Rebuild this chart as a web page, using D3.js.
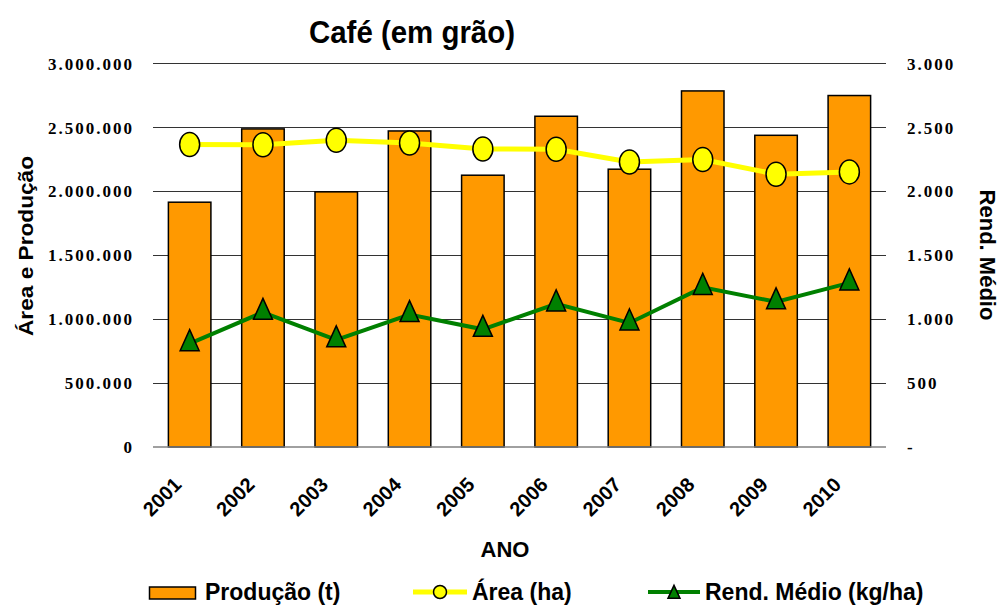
<!DOCTYPE html>
<html>
<head>
<meta charset="utf-8">
<script src="https://cdn.jsdelivr.net/npm/d3@7"></script>
<style>
  body { margin: 0; background: #fff; }
  .tick-lbl { font-family: "Liberation Serif", "Times New Roman", serif; font-weight: bold; font-size: 17px; letter-spacing: 2px; }
  .sans { font-family: "Liberation Sans", Arial, sans-serif; font-weight: bold; }
</style>
</head>
<body>
<div id="chart"></div>
<script>
// data
var years = ["2001", "2002", "2003", "2004", "2005", "2006", "2007", "2008", "2009", "2010"];
var producao = [1914000, 2487000, 1995000, 2471000, 2125000, 2586000, 2172000, 2784000, 2437000, 2748000];
var area = [2365000, 2363000, 2398000, 2377000, 2330000, 2328000, 2229000, 2247000, 2133000, 2151000];
var rendimento = [808, 1053, 838, 1035, 920, 1119, 970, 1248, 1135, 1283];
var leftTicks = [0, 500000, 1000000, 1500000, 2000000, 2500000, 3000000];
var rightTicks = [0, 500, 1000, 1500, 2000, 2500, 3000];

var svgWidth = 1002;
var svgHeight = 605;

var plot = { left: 153, right: 886, top: 63.3, bottom: 447 };

var svg = d3.select("#chart")
    .append("svg")
    .attr("width", svgWidth)
    .attr("height", svgHeight);

var ptBR = d3.formatLocale({ decimal: ",", thousands: ".", grouping: [3], currency: ["R$", ""] });
var fmt = ptBR.format(",.0f");

// scales
var x = d3.scaleBand()
    .domain(years)
    .range([plot.left, plot.right])
    .paddingInner(0.42)
    .paddingOuter(0.21);

var yLeft = d3.scaleLinear()
    .domain([0, 3000000])
    .range([plot.bottom, plot.top]);

var yRight = d3.scaleLinear()
    .domain([0, 3000])
    .range([plot.bottom, plot.top]);

// gridlines
svg.append("g")
    .selectAll("line")
    .data(leftTicks.filter(d => d > 0))
    .enter()
    .append("line")
    .attr("x1", plot.left)
    .attr("x2", plot.right)
    .attr("y1", d => Math.round(yLeft(d)) + 0.5)
    .attr("y2", d => Math.round(yLeft(d)) + 0.5)
    .attr("stroke", "#333")
    .attr("stroke-width", 1);

// left axis
var leftAxis = d3.axisLeft(yLeft)
    .tickValues(leftTicks)
    .tickSize(0)
    .tickPadding(19)
    .tickFormat(d => fmt(d));

var gl = svg.append("g")
    .attr("transform", `translate(${plot.left},0)`)
    .call(leftAxis);
gl.select(".domain").remove();
gl.selectAll("text").attr("class", "tick-lbl").attr("fill", "#000").attr("dy", "0.34em");

// right axis
var rightAxis = d3.axisRight(yRight)
    .tickValues(rightTicks)
    .tickSize(0)
    .tickPadding(21)
    .tickFormat(d => d === 0 ? "-" : fmt(d));

var gr = svg.append("g")
    .attr("transform", `translate(${plot.right},0)`)
    .call(rightAxis);
gr.select(".domain").remove();
gr.selectAll("text").attr("class", "tick-lbl").attr("fill", "#000").attr("dy", "0.34em");

// bars
svg.append("g")
    .selectAll("rect")
    .data(producao)
    .enter()
    .append("rect")
    .attr("x", (d, i) => x(years[i]))
    .attr("y", d => yLeft(d))
    .attr("width", x.bandwidth())
    .attr("height", d => plot.bottom - yLeft(d))
    .attr("fill", "#FF9900")
    .attr("stroke", "#000")
    .attr("stroke-width", 1.5);

// bottom axis line
svg.append("line")
    .attr("x1", plot.left)
    .attr("x2", plot.right)
    .attr("y1", plot.bottom)
    .attr("y2", plot.bottom)
    .attr("stroke", "#808080")
    .attr("stroke-width", 1.5);

// area line
var cx = (d, i) => x(years[i]) + x.bandwidth() / 2;

var areaLine = d3.line()
    .x(cx)
    .y(d => yLeft(d));

svg.append("path")
    .datum(area)
    .attr("d", areaLine)
    .attr("fill", "none")
    .attr("stroke", "#FFFF00")
    .attr("stroke-width", 5);

svg.append("g")
    .selectAll("ellipse")
    .data(area)
    .enter()
    .append("ellipse")
    .attr("cx", cx)
    .attr("cy", d => yLeft(d))
    .attr("rx", 10)
    .attr("ry", 12)
    .attr("fill", "#FFFF00")
    .attr("stroke", "#000")
    .attr("stroke-width", 1.5);

// rendimento line
var rendLine = d3.line()
    .x(cx)
    .y(d => yRight(d));

svg.append("path")
    .datum(rendimento)
    .attr("d", rendLine)
    .attr("fill", "none")
    .attr("stroke", "#008000")
    .attr("stroke-width", 4);

function triangle(w, h) {
    return `M0,${-h * 2 / 3}L${w / 2},${h / 3}L${-w / 2},${h / 3}Z`;
}

svg.append("g")
    .selectAll("path")
    .data(rendimento)
    .enter()
    .append("path")
    .attr("d", triangle(19, 21))
    .attr("transform", (d, i) => `translate(${cx(d, i)},${yRight(d)})`)
    .attr("fill", "#008000")
    .attr("stroke", "#000")
    .attr("stroke-width", 1.5);

// x labels
svg.append("g")
    .selectAll("text")
    .data(years)
    .enter()
    .append("text")
    .attr("class", "sans")
    .attr("font-size", "20px")
    .attr("text-anchor", "end")
    .attr("transform", d => `translate(${x(d) + x.bandwidth() / 2 - 7},486) rotate(-45)`)
    .text(d => d);

// titles
svg.append("text")
    .attr("class", "sans")
    .attr("x", 412)
    .attr("y", 43)
    .attr("font-size", "31px")
    .attr("text-anchor", "middle")
    .attr("textLength", 206)
    .attr("lengthAdjust", "spacingAndGlyphs")
    .text("Café (em grão)");

svg.append("text")
    .attr("class", "sans")
    .attr("x", 505)
    .attr("y", 557)
    .attr("font-size", "22px")
    .attr("text-anchor", "middle")
    .text("ANO");

svg.append("text")
    .attr("class", "sans")
    .attr("font-size", "21px")
    .attr("text-anchor", "middle")
    .attr("textLength", 180)
    .attr("lengthAdjust", "spacingAndGlyphs")
    .attr("transform", "translate(33,246) rotate(-90)")
    .text("Área e Produção");

svg.append("text")
    .attr("class", "sans")
    .attr("font-size", "22px")
    .attr("text-anchor", "middle")
    .attr("transform", "translate(980,255) rotate(90)")
    .text("Rend. Médio");

// legend
var legend = svg.append("g").attr("class", "legend");

legend.append("rect")
    .attr("x", 149.5).attr("y", 587)
    .attr("width", 46).attr("height", 12)
    .attr("fill", "#FF9900")
    .attr("stroke", "#000")
    .attr("stroke-width", 1.5);
legend.append("text")
    .attr("class", "sans").attr("font-size", "23px")
    .attr("x", 205).attr("y", 600)
    .text("Produção (t)");

legend.append("line")
    .attr("x1", 413).attr("x2", 467).attr("y1", 592).attr("y2", 592)
    .attr("stroke", "#FFFF00").attr("stroke-width", 5);
legend.append("ellipse")
    .attr("cx", 440).attr("cy", 592).attr("rx", 6.5).attr("ry", 6.5)
    .attr("fill", "#FFFF00").attr("stroke", "#000").attr("stroke-width", 1.5);
legend.append("text")
    .attr("class", "sans").attr("font-size", "23px")
    .attr("x", 472).attr("y", 600)
    .text("Área (ha)");

legend.append("line")
    .attr("x1", 648).attr("x2", 700).attr("y1", 592).attr("y2", 592)
    .attr("stroke", "#008000").attr("stroke-width", 4);
legend.append("path")
    .attr("d", triangle(12, 13))
    .attr("transform", "translate(674,594)")
    .attr("fill", "#008000").attr("stroke", "#000").attr("stroke-width", 1.5);
legend.append("text")
    .attr("class", "sans").attr("font-size", "23px")
    .attr("x", 705).attr("y", 600)
    .text("Rend. Médio (kg/ha)");
</script>
</body>
</html>
